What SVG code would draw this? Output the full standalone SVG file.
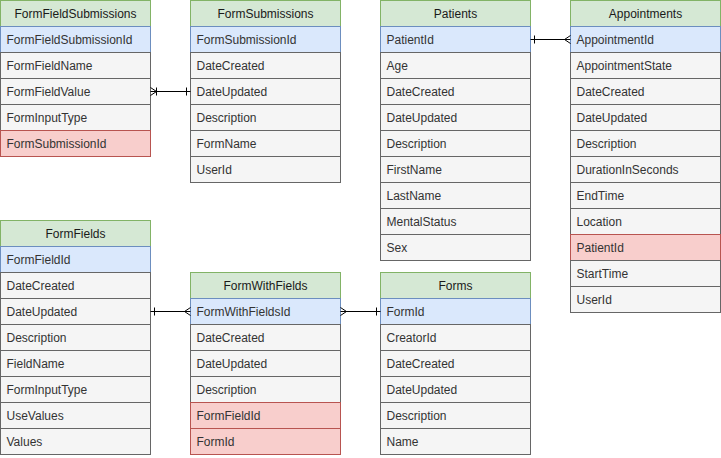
<svg xmlns="http://www.w3.org/2000/svg" width="721" height="458" viewBox="0 0 721 458">
<style>
text{font-family:"Liberation Sans",Arial,Helvetica,sans-serif;font-size:12px;font-weight:normal;stroke:none;dominant-baseline:central}
.h rect{fill:#d5e8d4;stroke:#82b366}
.h text{fill:#1a1a1a;text-anchor:middle}
.pk{fill:#dae8fc;stroke:#6c8ebf}
.fk{fill:#f8cecc;stroke:#b85450}
.r{fill:#f5f5f5;stroke:#666666}
.t{fill:#333333}
.c{stroke:#000;fill:none;stroke-width:1}
</style>
<rect width="721" height="458" fill="#fff"/>

<g id="FormFieldSubmissions">
<g class="h"><rect x="0.5" y="0.5" width="150" height="26"/><text x="75.5" y="13.5">FormFieldSubmissions</text></g>
<rect class="pk" x="0.5" y="26.5" width="150" height="26"/><text class="t" x="6.5" y="39.5">FormFieldSubmissionId</text>
<rect class="r" x="0.5" y="52.5" width="150" height="26"/><text class="t" x="6.5" y="65.5">FormFieldName</text>
<rect class="r" x="0.5" y="78.5" width="150" height="26"/><text class="t" x="6.5" y="91.5">FormFieldValue</text>
<rect class="r" x="0.5" y="104.5" width="150" height="26"/><text class="t" x="6.5" y="117.5">FormInputType</text>
<rect class="fk" x="0.5" y="130.5" width="150" height="26"/><text class="t" x="6.5" y="143.5">FormSubmissionId</text>
</g>

<g id="FormSubmissions">
<g class="h"><rect x="190.5" y="0.5" width="150" height="26"/><text x="265.5" y="13.5">FormSubmissions</text></g>
<rect class="pk" x="190.5" y="26.5" width="150" height="26"/><text class="t" x="196.5" y="39.5">FormSubmissionId</text>
<rect class="r" x="190.5" y="52.5" width="150" height="26"/><text class="t" x="196.5" y="65.5">DateCreated</text>
<rect class="r" x="190.5" y="78.5" width="150" height="26"/><text class="t" x="196.5" y="91.5">DateUpdated</text>
<rect class="r" x="190.5" y="104.5" width="150" height="26"/><text class="t" x="196.5" y="117.5">Description</text>
<rect class="r" x="190.5" y="130.5" width="150" height="26"/><text class="t" x="196.5" y="143.5">FormName</text>
<rect class="r" x="190.5" y="156.5" width="150" height="26"/><text class="t" x="196.5" y="169.5">UserId</text>
</g>

<g id="Patients">
<g class="h"><rect x="380.5" y="0.5" width="150" height="26"/><text x="455.5" y="13.5">Patients</text></g>
<rect class="pk" x="380.5" y="26.5" width="150" height="26"/><text class="t" x="386.5" y="39.5">PatientId</text>
<rect class="r" x="380.5" y="52.5" width="150" height="26"/><text class="t" x="386.5" y="65.5">Age</text>
<rect class="r" x="380.5" y="78.5" width="150" height="26"/><text class="t" x="386.5" y="91.5">DateCreated</text>
<rect class="r" x="380.5" y="104.5" width="150" height="26"/><text class="t" x="386.5" y="117.5">DateUpdated</text>
<rect class="r" x="380.5" y="130.5" width="150" height="26"/><text class="t" x="386.5" y="143.5">Description</text>
<rect class="r" x="380.5" y="156.5" width="150" height="26"/><text class="t" x="386.5" y="169.5">FirstName</text>
<rect class="r" x="380.5" y="182.5" width="150" height="26"/><text class="t" x="386.5" y="195.5">LastName</text>
<rect class="r" x="380.5" y="208.5" width="150" height="26"/><text class="t" x="386.5" y="221.5">MentalStatus</text>
<rect class="r" x="380.5" y="234.5" width="150" height="26"/><text class="t" x="386.5" y="247.5">Sex</text>
</g>

<g id="Appointments">
<g class="h"><rect x="570.5" y="0.5" width="150" height="26"/><text x="645.5" y="13.5">Appointments</text></g>
<rect class="pk" x="570.5" y="26.5" width="150" height="26"/><text class="t" x="576.5" y="39.5">AppointmentId</text>
<rect class="r" x="570.5" y="52.5" width="150" height="26"/><text class="t" x="576.5" y="65.5">AppointmentState</text>
<rect class="r" x="570.5" y="78.5" width="150" height="26"/><text class="t" x="576.5" y="91.5">DateCreated</text>
<rect class="r" x="570.5" y="104.5" width="150" height="26"/><text class="t" x="576.5" y="117.5">DateUpdated</text>
<rect class="r" x="570.5" y="130.5" width="150" height="26"/><text class="t" x="576.5" y="143.5">Description</text>
<rect class="r" x="570.5" y="156.5" width="150" height="26"/><text class="t" x="576.5" y="169.5">DurationInSeconds</text>
<rect class="r" x="570.5" y="182.5" width="150" height="26"/><text class="t" x="576.5" y="195.5">EndTime</text>
<rect class="r" x="570.5" y="208.5" width="150" height="26"/><text class="t" x="576.5" y="221.5">Location</text>
<rect class="fk" x="570.5" y="234.5" width="150" height="26"/><text class="t" x="576.5" y="247.5">PatientId</text>
<rect class="r" x="570.5" y="260.5" width="150" height="26"/><text class="t" x="576.5" y="273.5">StartTime</text>
<rect class="r" x="570.5" y="286.5" width="150" height="26"/><text class="t" x="576.5" y="299.5">UserId</text>
</g>

<g id="FormFields">
<g class="h"><rect x="0.5" y="220.5" width="150" height="26"/><text x="75.5" y="233.5">FormFields</text></g>
<rect class="pk" x="0.5" y="246.5" width="150" height="26"/><text class="t" x="6.5" y="259.5">FormFieldId</text>
<rect class="r" x="0.5" y="272.5" width="150" height="26"/><text class="t" x="6.5" y="285.5">DateCreated</text>
<rect class="r" x="0.5" y="298.5" width="150" height="26"/><text class="t" x="6.5" y="311.5">DateUpdated</text>
<rect class="r" x="0.5" y="324.5" width="150" height="26"/><text class="t" x="6.5" y="337.5">Description</text>
<rect class="r" x="0.5" y="350.5" width="150" height="26"/><text class="t" x="6.5" y="363.5">FieldName</text>
<rect class="r" x="0.5" y="376.5" width="150" height="26"/><text class="t" x="6.5" y="389.5">FormInputType</text>
<rect class="r" x="0.5" y="402.5" width="150" height="26"/><text class="t" x="6.5" y="415.5">UseValues</text>
<rect class="r" x="0.5" y="428.5" width="150" height="26"/><text class="t" x="6.5" y="441.5">Values</text>
</g>

<g id="FormWithFields">
<g class="h"><rect x="190.5" y="272.5" width="150" height="26"/><text x="265.5" y="285.5">FormWithFields</text></g>
<rect class="pk" x="190.5" y="298.5" width="150" height="26"/><text class="t" x="196.5" y="311.5">FormWithFieldsId</text>
<rect class="r" x="190.5" y="324.5" width="150" height="26"/><text class="t" x="196.5" y="337.5">DateCreated</text>
<rect class="r" x="190.5" y="350.5" width="150" height="26"/><text class="t" x="196.5" y="363.5">DateUpdated</text>
<rect class="r" x="190.5" y="376.5" width="150" height="26"/><text class="t" x="196.5" y="389.5">Description</text>
<rect class="fk" x="190.5" y="402.5" width="150" height="26"/><text class="t" x="196.5" y="415.5">FormFieldId</text>
<rect class="fk" x="190.5" y="428.5" width="150" height="26"/><text class="t" x="196.5" y="441.5">FormId</text>
</g>

<g id="Forms">
<g class="h"><rect x="380.5" y="272.5" width="150" height="26"/><text x="455.5" y="285.5">Forms</text></g>
<rect class="pk" x="380.5" y="298.5" width="150" height="26"/><text class="t" x="386.5" y="311.5">FormId</text>
<rect class="r" x="380.5" y="324.5" width="150" height="26"/><text class="t" x="386.5" y="337.5">CreatorId</text>
<rect class="r" x="380.5" y="350.5" width="150" height="26"/><text class="t" x="386.5" y="363.5">DateCreated</text>
<rect class="r" x="380.5" y="376.5" width="150" height="26"/><text class="t" x="386.5" y="389.5">DateUpdated</text>
<rect class="r" x="380.5" y="402.5" width="150" height="26"/><text class="t" x="386.5" y="415.5">Description</text>
<rect class="r" x="380.5" y="428.5" width="150" height="26"/><text class="t" x="386.5" y="441.5">Name</text>
</g>

<g id="connectors">
<path class="c" d="M150.5 91.5 H190.5"/>
<path class="c" d="M150.5 87.5 L156.5 91.5 L150.5 95.5 M156.5 87.5 V95.5"/>
<path class="c" d="M186.5 87.5 V95.5"/>
<path class="c" d="M530.5 39.5 H570.5"/>
<path class="c" d="M534.5 35.5 V43.5"/>
<path class="c" d="M570.5 35.5 L564.5 39.5 L570.5 43.5"/>
<path class="c" d="M150.5 311.5 H190.5"/>
<path class="c" d="M154.5 307.5 V315.5"/>
<path class="c" d="M190.5 307.5 L184.5 311.5 L190.5 315.5"/>
<path class="c" d="M340.5 311.5 H380.5"/>
<path class="c" d="M340.5 307.5 L346.5 311.5 L340.5 315.5"/>
<path class="c" d="M376.5 307.5 V315.5"/>
</g>
</svg>
